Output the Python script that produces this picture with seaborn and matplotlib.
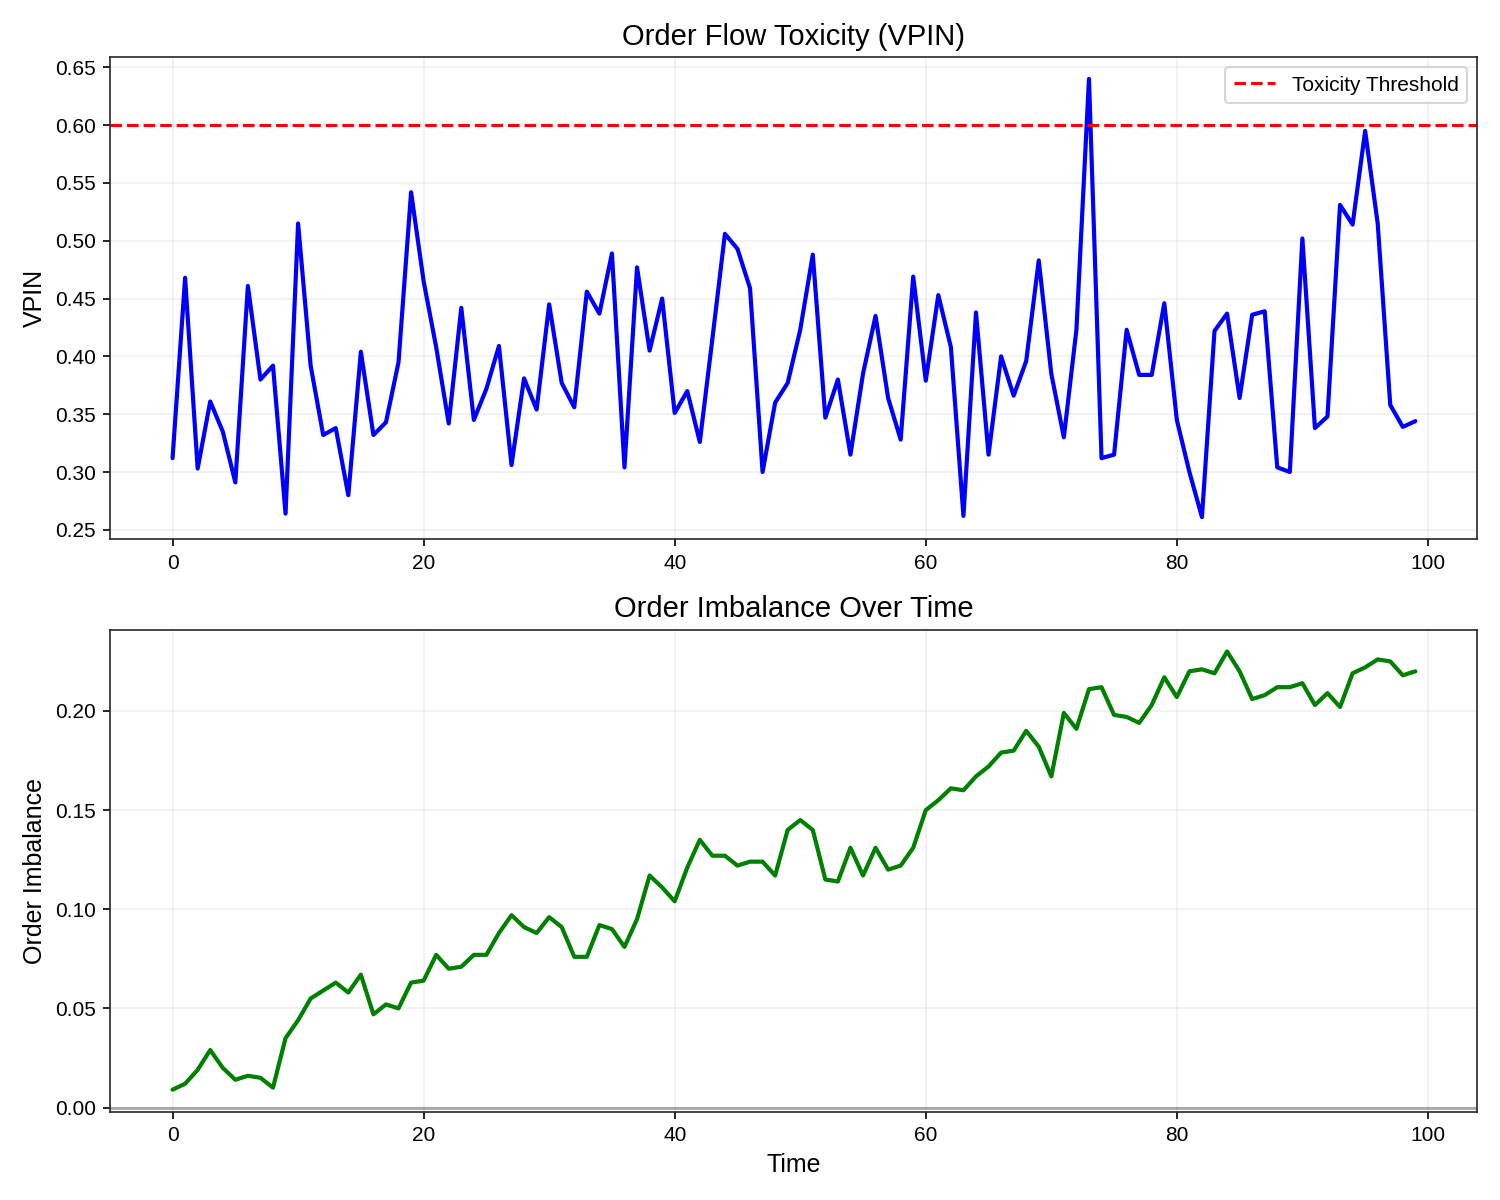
import numpy as np
import pandas as pd
import matplotlib
matplotlib.use('Agg')
import matplotlib.pyplot as plt
import seaborn as sns

#VPIN values
vpin = [0.312, 0.468, 0.303, 0.361, 0.335, 0.291, 0.461, 0.380, 0.392, 0.264,
        0.515, 0.392, 0.332, 0.338, 0.280, 0.404, 0.332, 0.343, 0.395, 0.542,
        0.465, 0.408, 0.342, 0.442, 0.345, 0.372, 0.409, 0.306, 0.381, 0.354,
        0.445, 0.377, 0.356, 0.456, 0.437, 0.489, 0.304, 0.477, 0.405, 0.450,
        0.351, 0.370, 0.326, 0.415, 0.506, 0.493, 0.459, 0.300, 0.360, 0.377,
        0.423, 0.488, 0.347, 0.380, 0.315, 0.385, 0.435, 0.364, 0.328, 0.469,
        0.379, 0.453, 0.408, 0.262, 0.438, 0.315, 0.400, 0.366, 0.396, 0.483,
        0.385, 0.330, 0.423, 0.640, 0.312, 0.315, 0.423, 0.384, 0.384, 0.446,
        0.345, 0.300, 0.261, 0.422, 0.437, 0.364, 0.436, 0.439, 0.304, 0.300,
        0.502, 0.338, 0.348, 0.531, 0.514, 0.595, 0.515, 0.358, 0.339, 0.344]

#Order imbalance values
imbalance = [0.009, 0.012, 0.019, 0.029, 0.020, 0.014, 0.016, 0.015, 0.010, 0.035,
             0.044, 0.055, 0.059, 0.063, 0.058, 0.067, 0.047, 0.052, 0.050, 0.063,
             0.064, 0.077, 0.070, 0.071, 0.077, 0.077, 0.088, 0.097, 0.091, 0.088,
             0.096, 0.091, 0.076, 0.076, 0.092, 0.090, 0.081, 0.095, 0.117, 0.111,
             0.104, 0.121, 0.135, 0.127, 0.127, 0.122, 0.124, 0.124, 0.117, 0.140,
             0.145, 0.140, 0.115, 0.114, 0.131, 0.117, 0.131, 0.120, 0.122, 0.131,
             0.150, 0.155, 0.161, 0.160, 0.167, 0.172, 0.179, 0.180, 0.190, 0.182,
             0.167, 0.199, 0.191, 0.211, 0.212, 0.198, 0.197, 0.194, 0.203, 0.217,
             0.207, 0.220, 0.221, 0.219, 0.230, 0.220, 0.206, 0.208, 0.212, 0.212,
             0.214, 0.203, 0.209, 0.202, 0.219, 0.222, 0.226, 0.225, 0.218, 0.220]

threshold = 0.6

df = pd.DataFrame({'Time': np.arange(len(vpin)), 'VPIN': vpin, 'Imbalance': imbalance})

sns.set_style('ticks')
plt.rcParams['font.family'] = ['Liberation Sans', 'DejaVu Sans']
plt.rcParams['text.color'] = 'black'
plt.rcParams['axes.labelcolor'] = 'black'
plt.rcParams['xtick.color'] = 'black'
plt.rcParams['ytick.color'] = 'black'

fig, (ax1, ax2) = plt.subplots(2, 1, figsize=(10, 8), dpi=150)

#VPIN plot
sns.lineplot(data=df, x='Time', y='VPIN', color='blue', linewidth=2, ax=ax1)
ax1.axhline(threshold, color='red', linestyle='--', linewidth=1.5, label='Toxicity Threshold')
ax1.set_title('Order Flow Toxicity (VPIN)', fontsize=14)
ax1.set_xlabel('')
ax1.set_ylabel('VPIN', fontsize=12)
ax1.legend(loc='upper right')
ax1.grid(True, alpha=0.3)

#Order imbalance plot
sns.lineplot(data=df, x='Time', y='Imbalance', color='green', linewidth=2, ax=ax2)
ax2.axhline(0, color='black', linestyle='-', alpha=0.3, linewidth=1.5)
ax2.set_title('Order Imbalance Over Time', fontsize=14)
ax2.set_xlabel('Time', fontsize=12)
ax2.set_ylabel('Order Imbalance', fontsize=12)
ax2.grid(True, alpha=0.3)

plt.tight_layout()
plt.savefig('out.png')
